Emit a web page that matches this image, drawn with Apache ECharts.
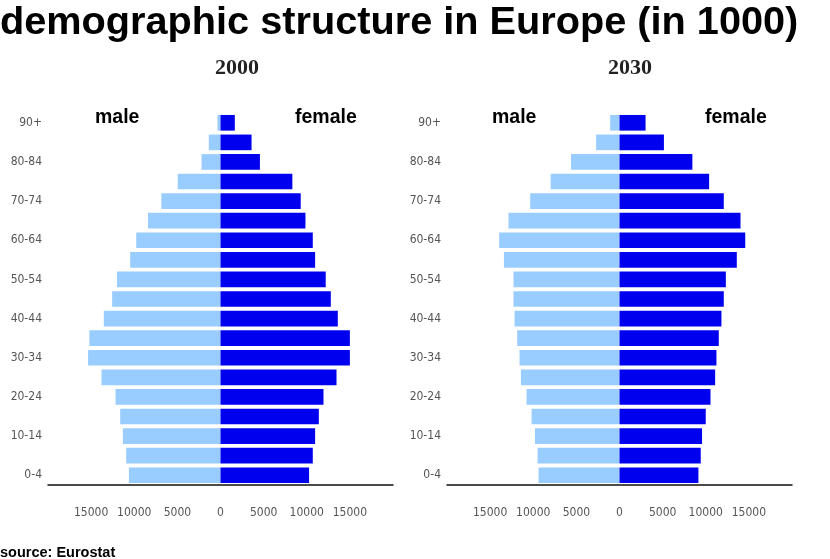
<!DOCTYPE html>
<html>
<head>
<meta charset="utf-8">
<script src="https://cdn.jsdelivr.net/npm/echarts@6/dist/echarts.min.js"></script>
<style>html,body{margin:0;padding:0;background:#fff;}#c{width:830px;height:559px;}</style>
</head>
<body>
<div id="c"></div>
<script>
const ageGroups = ['0-4','5-9','10-14','15-19','20-24','25-29','30-34','35-39','40-44','45-49','50-54','55-59','60-64','65-69','70-74','75-79','80-84','85-89','90+'];
const male2000   = [10620,10930,11320,11630,12170,13800,15350,15200,13530,12560,12000,10470,9770,8400,6860,4960,2200,1360,350];
const female2000 = [10270,10700,10970,11400,11940,13450,15000,15000,13600,12790,12200,10970,10700,9850,9300,8330,4570,3600,1660];
const male2030   = [9380,9500,9800,10190,10780,11430,11590,11860,12170,12290,12290,13400,13950,12870,10350,7980,5620,2710,1080];
const female2030 = [9150,9420,9570,10000,10550,11090,11240,11510,11820,12090,12330,13600,14580,14030,12090,10390,8450,5150,3020];
const xTicks = [-15000,-10000,-5000,0,5000,10000,15000];

const chart = echarts.init(document.getElementById('c'));
const narrow = "'Liberation Sans Narrow','DejaVu Sans Condensed',sans-serif";
function xAxisCfg(gi){
  return {
    type:'value', gridIndex:gi, min:-20000, max:20000, interval:5000,
    axisLine:{show:true, lineStyle:{color:'#111', width:1.5}},
    axisTick:{show:false}, splitLine:{show:false},
    axisLabel:{
      margin:22, color:'#555', fontFamily:narrow, fontSize:12,
      formatter:function(v){ return xTicks.indexOf(v) >= 0 ? String(Math.abs(v)) : ''; }
    }
  };
}
function yAxisCfg(gi){
  return {
    type:'category', gridIndex:gi, data:ageGroups,
    axisLine:{show:false}, axisTick:{show:false},
    axisLabel:{interval:1, margin:6, color:'#555', fontFamily:narrow, fontSize:12}
  };
}
function bar(gi, data, color, sign){
  return {
    type:'bar', xAxisIndex:gi, yAxisIndex:gi, stack:'s'+gi,
    data:data.map(v=>v*sign), barCategoryGap:'20%',
    itemStyle:{color:color}, silent:true
  };
}
const bold = "'Liberation Sans',Arial,sans-serif";
chart.setOption({
  animation:false,
  title:[
    {text:'demographic structure in Europe (in 1000)', left:0, top:3, padding:0,
     textStyle:{fontFamily:bold, fontWeight:'bold', fontSize:39.7, color:'#000'}},
    {text:'2000', left:237, top:57, padding:0, textAlign:'center',
     textStyle:{fontFamily:"'Liberation Serif',serif", fontWeight:'bold', fontSize:22, color:'#222'}},
    {text:'2030', left:630, top:57, padding:0, textAlign:'center',
     textStyle:{fontFamily:"'Liberation Serif',serif", fontWeight:'bold', fontSize:22, color:'#222'}},
    {text:'male', left:95, top:108, padding:0, textStyle:{fontFamily:bold, fontWeight:'bold', fontSize:19.5, color:'#000'}},
    {text:'female', left:295, top:108, padding:0, textStyle:{fontFamily:bold, fontWeight:'bold', fontSize:19.5, color:'#000'}},
    {text:'male', left:492, top:108, padding:0, textStyle:{fontFamily:bold, fontWeight:'bold', fontSize:19.5, color:'#000'}},
    {text:'female', left:705, top:108, padding:0, textStyle:{fontFamily:bold, fontWeight:'bold', fontSize:19.5, color:'#000'}},
    {text:'source: Eurostat', left:0, top:545, padding:0, textStyle:{fontFamily:bold, fontWeight:'bold', fontSize:14.5, color:'#000'}}
  ],
  grid:[
    {left:48, width:345, top:113, height:372},
    {left:447, width:345, top:113, height:372}
  ],
  xAxis:[xAxisCfg(0), xAxisCfg(1)],
  yAxis:[yAxisCfg(0), yAxisCfg(1)],
  series:[
    bar(0, male2000, '#99ccff', -1),
    bar(0, female2000, '#0000ee', 1),
    bar(1, male2030, '#99ccff', -1),
    bar(1, female2030, '#0000ee', 1)
  ]
});
</script>
</body>
</html>
